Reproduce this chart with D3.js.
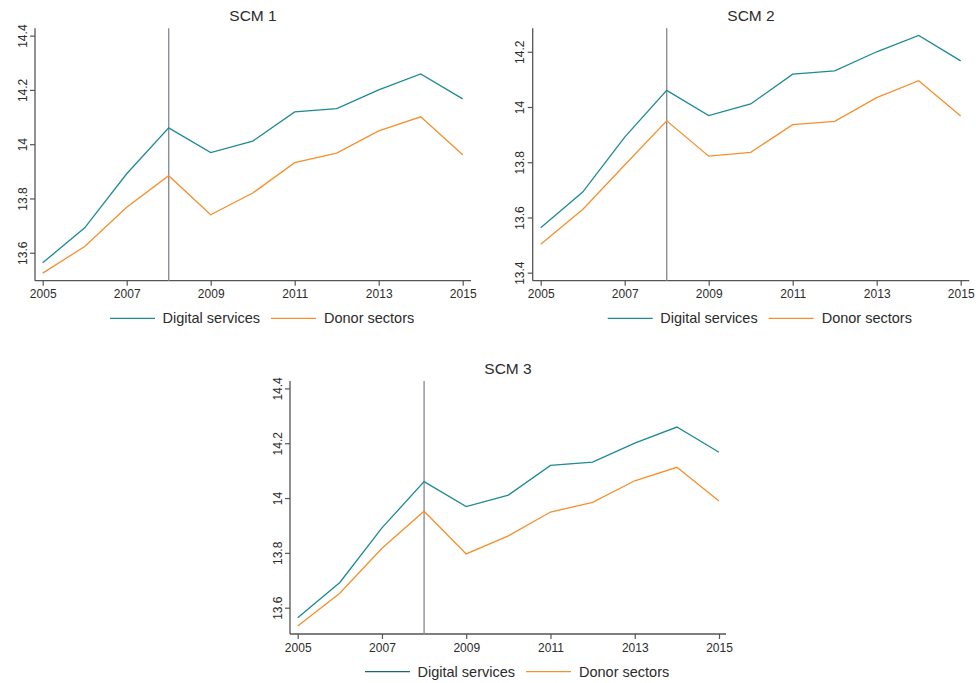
<!DOCTYPE html>
<html>
<head>
<meta charset="utf-8">
<script src="https://cdn.jsdelivr.net/npm/d3@7"></script>
<style>
  body { margin: 0; background: #fff; }
  svg text { font-family: "Liberation Sans", Arial, sans-serif; fill: #2b2b2b; }
</style>
</head>
<body>
<div id="chart"></div>
<script>
const years = [2005, 2006, 2007, 2008, 2009, 2010, 2011, 2012, 2013, 2014, 2015];
const xTicks = [2005, 2007, 2009, 2011, 2013, 2015];
const treatYear = 2008;

// same treated series in every panel
const digital = [13.563, 13.692, 13.891, 14.060, 13.969, 14.011, 14.119, 14.131, 14.200, 14.259, 14.167];
const donor1 = [13.525, 13.623, 13.768, 13.884, 13.740, 13.820, 13.932, 13.967, 14.049, 14.101, 13.961];
const donor2 = [13.503, 13.629, 13.790, 13.950, 13.822, 13.836, 13.936, 13.948, 14.034, 14.095, 13.967];
const donor3 = [13.533, 13.653, 13.817, 13.952, 13.796, 13.862, 13.949, 13.984, 14.063, 14.112, 13.989];

const yTicks1 = [13.6, 13.8, 14, 14.2, 14.4];
const yTicks2 = [13.4, 13.6, 13.8, 14, 14.2];
const yTicks3 = [13.6, 13.8, 14, 14.2, 14.4];

const titles = ["SCM 1", "SCM 2", "SCM 3"];
const seriesNames = ["Digital services", "Donor sectors"];

const teal = "#1d8a94";
const orange = "#f5902f";

const svg = d3.select("#chart")
  .append("svg")
    .attr("width", 976)
    .attr("height", 683);

const panels = [
  { title: titles[0], donor: donor1, yTicks: yTicks1, left: 35, right: 471, top: 28.3, bottom: 280.7,
    x0: 42.7, x1: 462.7, yDomain: [13.497, 14.427], legendDark: false },
  { title: titles[1], donor: donor2, yTicks: yTicks2, left: 532.7, right: 969.3, top: 28.3, bottom: 280.7,
    x0: 540.7, x1: 960.7, yDomain: [13.371, 14.285], legendDark: false },
  { title: titles[2], donor: donor3, yTicks: yTicks3, left: 290, right: 726, top: 381, bottom: 634,
    x0: 297.7, x1: 719, yDomain: [13.504, 14.427], legendDark: true }
];

const fmt = d => d3.format("")(+d.toFixed(1));

panels.forEach(p => {
  const g = svg.append("g");

  const x = d3.scaleLinear().domain([2005, 2015]).range([p.x0, p.x1]);
  const y = d3.scaleLinear().domain(p.yDomain).range([p.bottom, p.top]);

  // title
  g.append("text")
    .attr("x", (p.left + p.right) / 2)
    .attr("y", p.top - 7.3)
    .attr("text-anchor", "middle")
    .style("font-size", "15.5px")
    .text(p.title);

  // x axis
  const xAxis = g.append("g")
    .attr("transform", `translate(0,${p.bottom})`)
    .call(d3.axisBottom(x).tickValues(xTicks).tickFormat(d3.format("d")).tickSize(5).tickPadding(4));
  xAxis.select(".domain").remove();
  xAxis.selectAll(".tick line").attr("stroke", "#555").attr("stroke-width", 1.2);
  xAxis.selectAll(".tick text").style("font-size", "12px").attr("fill", "#2b2b2b");

  // y axis
  const yAxis = g.append("g")
    .attr("transform", `translate(${p.left},0)`)
    .call(d3.axisLeft(y).tickValues(p.yTicks).tickFormat(fmt).tickSize(5));
  yAxis.select(".domain").remove();
  yAxis.selectAll(".tick line").attr("stroke", "#555").attr("stroke-width", 1.2);
  yAxis.selectAll(".tick text")
    .attr("x", null).attr("dy", null)
    .attr("text-anchor", "middle")
    .attr("transform", "translate(-8.5,0) rotate(-90)")
    .style("font-size", "12px")
    .attr("fill", "#2b2b2b");

  // axis lines
  g.append("line")
    .attr("x1", p.left).attr("x2", p.right)
    .attr("y1", p.bottom).attr("y2", p.bottom)
    .attr("stroke", "#555").attr("stroke-width", 1.3);
  g.append("line")
    .attr("x1", p.left).attr("x2", p.left)
    .attr("y1", p.top).attr("y2", p.bottom)
    .attr("stroke", "#555").attr("stroke-width", 1.3);

  // treatment line
  g.append("line")
    .attr("x1", x(treatYear)).attr("x2", x(treatYear))
    .attr("y1", p.top).attr("y2", p.bottom)
    .attr("stroke", "#8e8e98").attr("stroke-width", 1.4);

  const line = d3.line()
    .x((d, i) => x(years[i]))
    .y(d => y(d));

  g.append("path")
    .datum(p.donor)
    .attr("d", line)
    .attr("fill", "none")
    .attr("stroke", orange)
    .attr("stroke-width", 1.3);

  g.append("path")
    .datum(digital)
    .attr("d", line)
    .attr("fill", "none")
    .attr("stroke", teal)
    .attr("stroke-width", 1.3);

  // legend
  const ly = p.bottom + 37.6;
  const lx = p.left + 75;
  const legendItems = [
    { name: seriesNames[0], color: p.legendDark ? "#1a6874" : teal, dx: 0, tx: 52.5 },
    { name: seriesNames[1], color: orange, dx: 161, tx: 53 }
  ];
  legendItems.forEach(it => {
    g.append("line")
      .attr("x1", lx + it.dx).attr("x2", lx + it.dx + 45)
      .attr("y1", ly).attr("y2", ly)
      .attr("stroke", it.color).attr("stroke-width", 1.3);
    g.append("text")
      .attr("x", lx + it.dx + it.tx)
      .attr("y", ly + 5)
      .style("font-size", "14.5px")
      .text(it.name);
  });
});
</script>
</body>
</html>
